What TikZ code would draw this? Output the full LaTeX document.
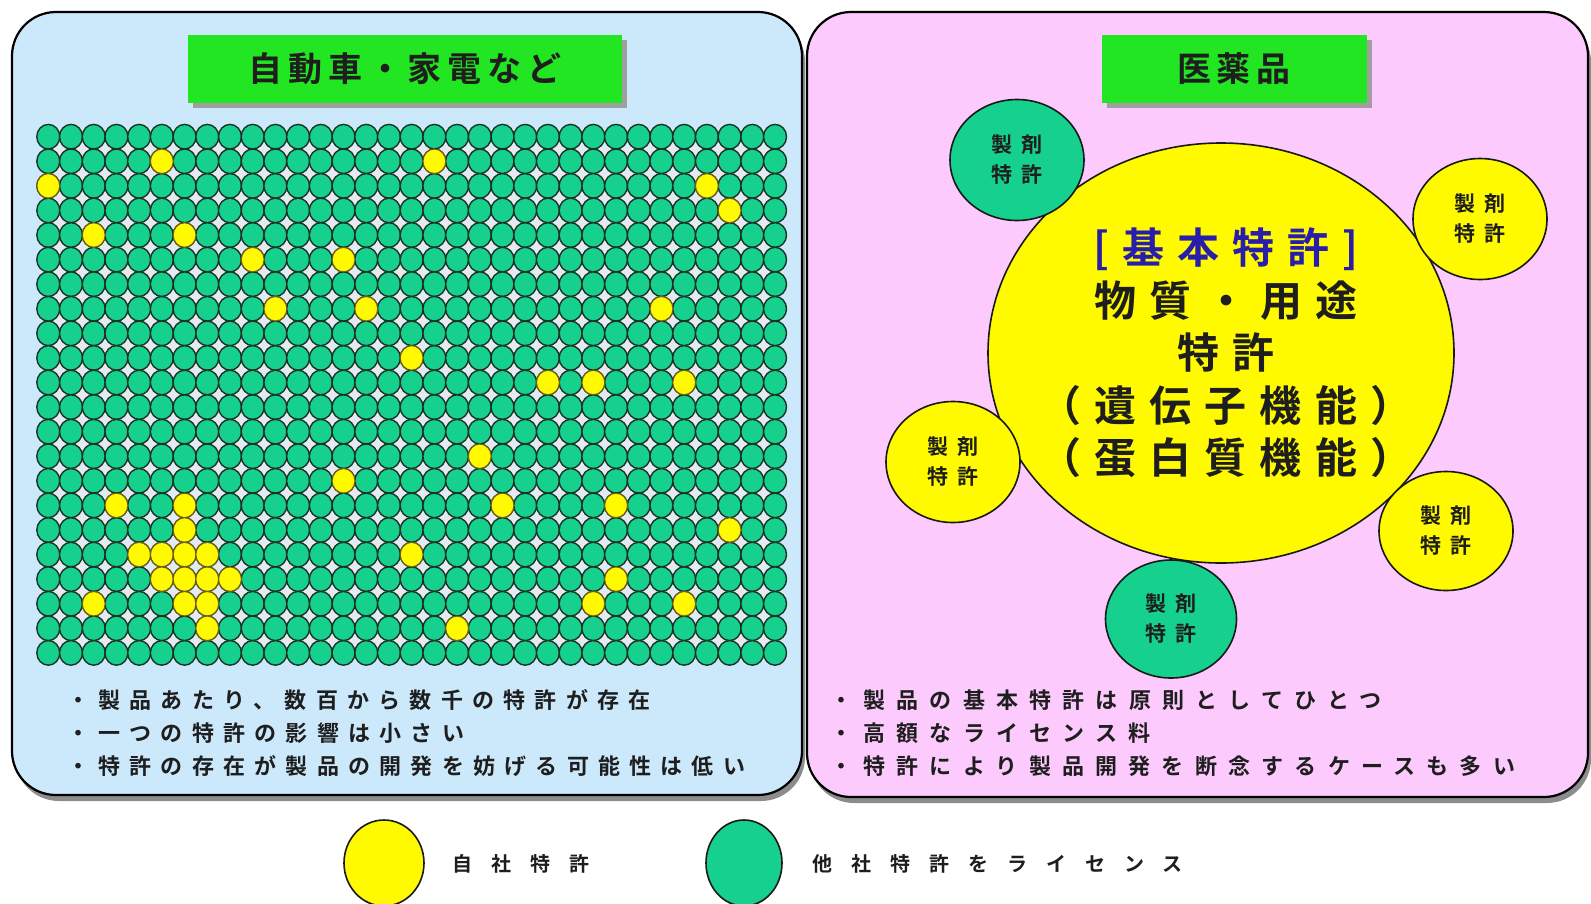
\documentclass[tikz,border=0pt]{standalone}
\usepackage{fontspec}
\newfontfamily\jp{Noto Sans CJK JP}[BoldFont={Noto Sans CJK JP Bold}]
\usetikzlibrary{shapes.geometric,shadows}
\definecolor{lblue}{RGB}{204,233,252}
\definecolor{lpink}{RGB}{252,202,252}
\definecolor{tgreen}{RGB}{34,230,34}
\definecolor{pgreen}{RGB}{22,208,142}
\definecolor{pyellow}{RGB}{255,250,0}
\definecolor{dkline}{RGB}{25,50,38}
\definecolor{ydk}{RGB}{110,95,20}
\definecolor{navy}{RGB}{40,30,170}
\definecolor{gapc}{RGB}{228,234,241}
\definecolor{txt}{RGB}{30,30,30}
\newcommand\ttlfont{\jp\bfseries\fontsize{34}{38}\selectfont\addfontfeature{LetterSpace=17}}
\newcommand\bigfont{\jp\bfseries\fontsize{42}{52.5}\selectfont\addfontfeature{LetterSpace=31}}
\newcommand\smlfont{\jp\bfseries\fontsize{21}{30}\selectfont\addfontfeature{LetterSpace=45}}
\newcommand\lbulfont{\jp\bfseries\fontsize{22}{33}\selectfont\addfontfeature{LetterSpace=42}}
\newcommand\rbulfont{\jp\bfseries\fontsize{22}{33}\selectfont\addfontfeature{LetterSpace=51}}
\newcommand\legfont{\jp\bfseries\fontsize{20}{24}\selectfont\addfontfeature{LetterSpace=95}}
\begin{document}
\begin{tikzpicture}[x=1pt,y=-1pt,
  panel/.style={draw=black, line width=2.2pt, rounded corners=44pt, inner sep=0pt,
    drop shadow={shadow xshift=3pt, shadow yshift=-6pt, opacity=0.45, fill=black}},
  titlebox/.style={fill=tgreen, inner sep=0pt, text=txt, font=\ttlfont,
    drop shadow={shadow xshift=5pt, shadow yshift=-5pt, opacity=1, fill=gray!75}},
  gcell/.style={fill=pgreen, draw=dkline, line width=1.4pt},
  ycell/.style={fill=pyellow, draw=ydk, line width=1.2pt},
  circ/.style={ellipse, draw=black!90, line width=1.6pt, inner sep=0pt, align=center, text=txt},
  smallpat/.style={circ, font=\smlfont, minimum width=134, minimum height=121},
  bul/.style={anchor=west, align=left, inner sep=0pt, text=txt}
]
\useasboundingbox (0,0) rectangle (1591,903);
\fill[white] (0,0) rectangle (1591,903);

% panels
\node[panel, fill=lblue, minimum width=790, minimum height=783] (lp) at (407,403.5) {};
\node[panel, fill=lpink, minimum width=781, minimum height=785] (rp) at (1197.5,404.5) {};

% titles
\node[titlebox, minimum width=434, minimum height=68] (lt) at (405,69) {自動車・家電など};
\node[titlebox, minimum width=265, minimum height=68] (rt) at (1234,69) {医薬品};

% grid of patents
\fill[gapc] (48.3,136.7) rectangle (775,653);
\foreach \r in {0,...,21}
  \foreach \c in {0,...,32}
    \draw[gcell] ({48.3+22.71*\c},{136.7+24.58*\r}) ellipse [x radius=11.5, y radius=12.3];
\foreach \c/\r in {5/1,17/1,0/2,29/2,30/3,2/4,6/4,9/5,13/5,10/7,14/7,27/7,16/9,22/10,24/10,28/10,
  19/13,13/14,3/15,6/15,20/15,25/15,6/16,30/16,4/17,5/17,6/17,7/17,16/17,5/18,6/18,7/18,8/18,25/18,
  2/19,6/19,7/19,24/19,28/19,7/20,18/20}
    \draw[ycell] ({48.3+22.71*\c},{136.7+24.58*\r}) ellipse [x radius=11.5, y radius=12.3];

% pharma circles
\node[circ, fill=pyellow, minimum width=466, minimum height=420] (bp) at (1221,353) {};
\node[align=center, inner sep=0pt, text=txt, font=\bigfont] (bpt) at (1226,353) {\textcolor{navy}{[基本特許]}\\物質・用途\\特許\\（遺伝子機能）\\（蛋白質機能）};
\node[smallpat, fill=pgreen] (s1) at (1017,160) {製剤\\特許};
\node[smallpat, fill=pyellow] (s2) at (1480,219) {製剤\\特許};
\node[smallpat, fill=pyellow] (s3) at (953,462) {製剤\\特許};
\node[smallpat, fill=pyellow, minimum height=119] (s4) at (1446,531) {製剤\\特許};
\node[smallpat, fill=pgreen, minimum width=131, minimum height=118] (s5) at (1171,619) {製剤\\特許};

% bullet texts
\node[bul, font=\lbulfont] (lb) at (67,733) {・製品あたり、数百から数千の特許が存在\\・一つの特許の影響は小さい\\・特許の存在が製品の開発を妨げる可能性は低い};
\node[bul, font=\rbulfont] (rb) at (830,733) {・製品の基本特許は原則としてひとつ\\・高額なライセンス料\\・特許により製品開発を断念するケースも多い};

% legend
\node[circ, fill=pyellow, minimum width=80, minimum height=86] (ly) at (384,863) {};
\node[bul, font=\legfont] (lyt) at (452,864) {自社特許};
\node[circ, fill=pgreen, minimum width=76, minimum height=86] (lg) at (744,863) {};
\node[bul, font=\legfont] (lgt) at (812,864) {他社特許をライセンス};
\end{tikzpicture}
\end{document}
